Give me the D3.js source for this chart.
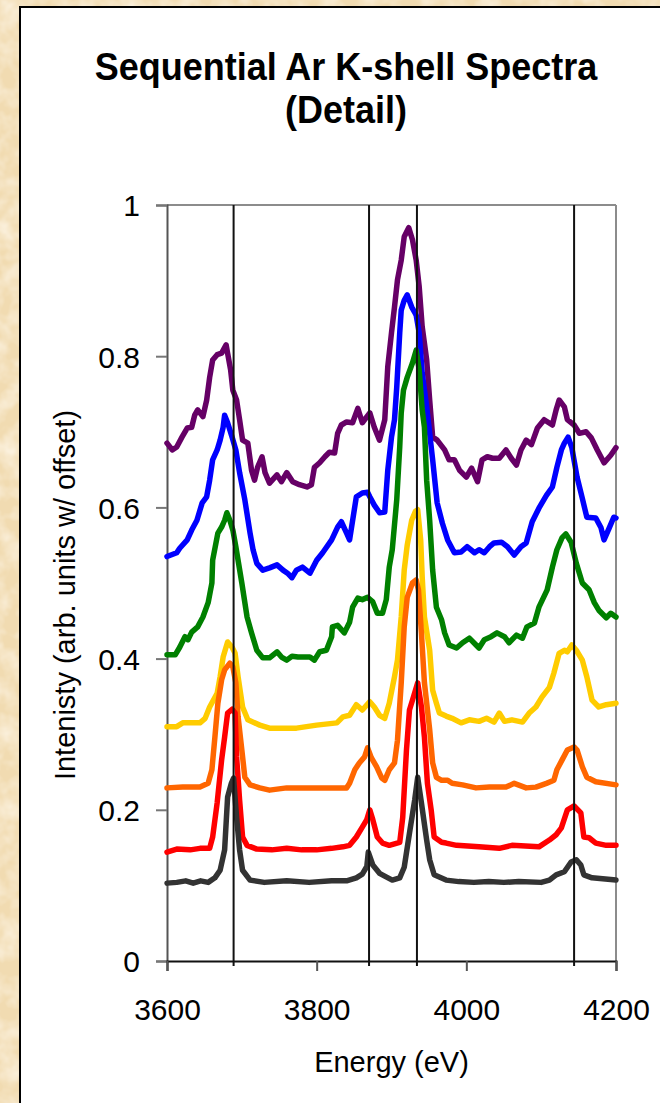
<!DOCTYPE html>
<html><head><meta charset="utf-8">
<script src="https://cdn.jsdelivr.net/npm/d3@7"></script>
<style>html,body{margin:0;padding:0;background:#fff;}svg{display:block;}</style>
</head><body>
<svg id="chart" width="660" height="1103"></svg>
<script>
// ---------- DATA ----------
const titleLines = ["Sequential Ar K-shell Spectra", "(Detail)"];
const xTitle = "Energy (eV)";
const yTitle = "Intenisty (arb. units w/ offset)";
const xTicks = [3600, 3800, 4000, 4200];
const yTicks = [0, 0.2, 0.4, 0.6, 0.8, 1];
const yTickLabels = ["0", "0.2", "0.4", "0.6", "0.8", "1"];
const markerEnergies = [3689, 3870, 3934, 4144];

const purpleSeries = [[3600,.685],[3607,.676],[3613,.680],[3620,.693],[3627,.705],[3633,.706],[3637,.722],[3641,.729],[3648,.720],[3653,.742],[3657,.772],[3661,.795],[3667,.802],[3673,.804],[3679,.815],[3681,.804],[3685,.782],[3688,.755],[3693,.742],[3697,.716],[3701,.689],[3708,.685],[3713,.649],[3717,.636],[3721,.653],[3727,.667],[3731,.646],[3737,.632],[3747,.643],[3753,.634],[3760,.646],[3768,.634],[3777,.630],[3787,.627],[3793,.630],[3797,.653],[3804,.659],[3811,.667],[3817,.673],[3824,.672],[3828,.698],[3833,.709],[3840,.713],[3848,.712],[3855,.731],[3861,.712],[3871,.725],[3877,.706],[3884,.689],[3891,.716],[3895,.786],[3900,.831],[3904,.865],[3908,.901],[3913,.927],[3917,.958],[3923,.970],[3928,.954],[3933,.927],[3937,.892],[3941,.839],[3947,.795],[3951,.742],[3955,.693],[3961,.689],[3971,.676],[3977,.663],[3984,.663],[3991,.649],[4000,.640],[4007,.652],[4015,.634],[4021,.663],[4028,.667],[4035,.665],[4044,.665],[4053,.676],[4060,.665],[4067,.656],[4073,.676],[4080,.689],[4087,.683],[4095,.705],[4104,.716],[4115,.709],[4120,.729],[4124,.742],[4131,.733],[4135,.716],[4144,.709],[4151,.698],[4160,.700],[4167,.692],[4175,.676],[4184,.659],[4193,.669],[4200,.679]];

const blueSeries = [[3600,.535],[3613,.540],[3617,.546],[3627,.557],[3633,.570],[3640,.583],[3647,.606],[3653,.614],[3657,.636],[3661,.663],[3667,.676],[3671,.689],[3675,.706],[3677,.722],[3681,.712],[3687,.693],[3692,.676],[3697,.646],[3704,.610],[3711,.566],[3715,.544],[3720,.526],[3728,.517],[3737,.520],[3747,.524],[3755,.517],[3761,.513],[3767,.507],[3773,.517],[3781,.521],[3791,.513],[3800,.530],[3808,.540],[3820,.557],[3828,.574],[3833,.581],[3840,.566],[3844,.557],[3853,.614],[3861,.619],[3868,.620],[3871,.614],[3877,.603],[3884,.593],[3891,.594],[3895,.649],[3900,.693],[3904,.716],[3907,.759],[3911,.831],[3913,.861],[3917,.874],[3921,.881],[3927,.865],[3931,.858],[3933,.854],[3937,.831],[3941,.778],[3947,.733],[3951,.698],[3955,.663],[3961,.606],[3968,.579],[3975,.557],[3984,.540],[3993,.541],[4001,.548],[4011,.540],[4017,.544],[4024,.540],[4031,.548],[4037,.553],[4047,.554],[4055,.548],[4064,.537],[4073,.548],[4080,.553],[4088,.581],[4097,.599],[4107,.616],[4115,.627],[4121,.653],[4127,.676],[4131,.685],[4136,.693],[4141,.679],[4148,.640],[4155,.612],[4161,.587],[4173,.586],[4180,.573],[4184,.557],[4191,.573],[4197,.587],[4200,.586]];

const greenSeries = [[3600,.405],[3611,.405],[3617,.415],[3624,.429],[3628,.425],[3633,.435],[3641,.442],[3648,.455],[3655,.474],[3660,.500],[3661,.530],[3668,.566],[3673,.574],[3677,.583],[3680,.593],[3684,.583],[3688,.570],[3692,.548],[3700,.500],[3707,.455],[3713,.434],[3720,.411],[3728,.401],[3737,.401],[3747,.409],[3753,.402],[3760,.398],[3767,.403],[3775,.402],[3791,.402],[3797,.398],[3804,.409],[3813,.411],[3820,.429],[3821,.442],[3828,.444],[3837,.434],[3844,.448],[3848,.468],[3855,.480],[3861,.478],[3868,.481],[3875,.475],[3881,.460],[3888,.460],[3893,.478],[3897,.521],[3901,.544],[3907,.610],[3911,.680],[3913,.725],[3916,.755],[3921,.772],[3928,.791],[3933,.808],[3937,.782],[3941,.729],[3944,.706],[3947,.636],[3951,.583],[3955,.517],[3960,.468],[3967,.451],[3971,.434],[3977,.418],[3987,.414],[3995,.421],[4004,.427],[4013,.418],[4017,.414],[4024,.425],[4033,.429],[4041,.434],[4051,.429],[4057,.421],[4067,.431],[4075,.427],[4081,.442],[4091,.447],[4097,.468],[4108,.491],[4115,.521],[4121,.544],[4128,.560],[4133,.565],[4140,.554],[4147,.526],[4155,.500],[4164,.491],[4171,.474],[4177,.464],[4187,.454],[4193,.460],[4200,.455]];

const yellowSeries = [[3600,.310],[3613,.310],[3621,.315],[3644,.315],[3651,.321],[3657,.336],[3667,.354],[3671,.376],[3675,.402],[3681,.422],[3687,.415],[3691,.407],[3695,.376],[3701,.336],[3708,.319],[3724,.312],[3737,.308],[3773,.308],[3800,.312],[3827,.315],[3835,.323],[3844,.325],[3853,.339],[3861,.332],[3871,.343],[3877,.336],[3884,.325],[3891,.321],[3897,.341],[3904,.376],[3908,.398],[3913,.455],[3917,.517],[3921,.550],[3927,.583],[3932,.595],[3935,.597],[3939,.557],[3941,.508],[3944,.455],[3951,.411],[3955,.358],[3960,.341],[3964,.328],[3973,.324],[3981,.321],[3993,.315],[4004,.319],[4017,.317],[4027,.321],[4037,.316],[4044,.328],[4051,.317],[4061,.319],[4075,.316],[4084,.328],[4093,.336],[4101,.349],[4111,.362],[4117,.381],[4124,.407],[4131,.411],[4135,.409],[4141,.418],[4147,.411],[4155,.398],[4161,.376],[4168,.345],[4177,.336],[4187,.339],[4200,.341]];

const orangeSeries = [[3600,.229],[3621,.230],[3644,.230],[3655,.235],[3660,.253],[3664,.296],[3668,.341],[3673,.372],[3677,.385],[3684,.394],[3688,.389],[3692,.368],[3695,.323],[3700,.279],[3704,.243],[3711,.233],[3724,.229],[3737,.226],[3760,.229],[3790,.229],[3820,.229],[3840,.229],[3844,.235],[3851,.253],[3857,.262],[3864,.270],[3868,.282],[3873,.269],[3880,.257],[3887,.242],[3891,.239],[3897,.253],[3904,.262],[3908,.292],[3913,.368],[3917,.442],[3921,.481],[3928,.500],[3933,.504],[3936,.491],[3940,.434],[3944,.368],[3951,.306],[3955,.262],[3960,.243],[3967,.239],[3975,.239],[3981,.235],[3995,.233],[4013,.229],[4031,.230],[4053,.230],[4064,.235],[4080,.229],[4093,.230],[4107,.235],[4117,.239],[4121,.253],[4128,.266],[4135,.279],[4144,.283],[4148,.279],[4155,.257],[4161,.243],[4173,.237],[4200,.233]];

const redSeries = [[3600,.144],[3613,.148],[3631,.147],[3644,.149],[3657,.149],[3661,.164],[3667,.209],[3673,.266],[3677,.296],[3681,.328],[3687,.333],[3691,.328],[3693,.270],[3697,.213],[3701,.164],[3707,.153],[3720,.148],[3740,.147],[3760,.149],[3780,.147],[3800,.147],[3820,.149],[3835,.151],[3844,.153],[3853,.164],[3861,.177],[3867,.187],[3871,.200],[3875,.187],[3881,.164],[3888,.156],[3897,.153],[3911,.157],[3915,.190],[3920,.279],[3924,.332],[3928,.345],[3935,.368],[3940,.336],[3944,.296],[3948,.235],[3953,.200],[3957,.164],[3967,.157],[3973,.156],[3987,.153],[4017,.151],[4044,.149],[4061,.153],[4097,.151],[4111,.160],[4120,.167],[4127,.176],[4135,.200],[4144,.205],[4153,.196],[4157,.164],[4164,.163],[4173,.156],[4187,.153],[4200,.153]];

const blackSeries = [[3600,.103],[3613,.104],[3625,.106],[3635,.103],[3645,.106],[3655,.104],[3664,.110],[3671,.120],[3677,.147],[3681,.217],[3686,.235],[3689,.242],[3693,.190],[3697,.147],[3701,.120],[3711,.107],[3730,.104],[3760,.106],[3790,.104],[3820,.106],[3840,.106],[3853,.110],[3861,.115],[3867,.125],[3869,.144],[3875,.127],[3884,.116],[3901,.107],[3911,.110],[3917,.124],[3924,.169],[3931,.213],[3935,.243],[3940,.209],[3947,.160],[3951,.134],[3957,.114],[3973,.107],[3990,.105],[4010,.104],[4030,.105],[4050,.104],[4070,.105],[4100,.104],[4111,.107],[4120,.114],[4131,.118],[4140,.131],[4147,.134],[4153,.127],[4157,.114],[4168,.110],[4200,.107]];

const seriesList = [purpleSeries, blueSeries, greenSeries, yellowSeries, orangeSeries, redSeries, blackSeries];
const seriesColors = ["#660066", "#0000ff", "#008000", "#ffcc00", "#ff6600", "#ff0000", "#333333"];

// ---------- LAYOUT ----------
const svg = d3.select("#chart");
const W = 660, H = 1103;
const plot = {left: 167, right: 616, top: 205, bottom: 961};

const defs = svg.append("defs");
const filt = defs.append("filter").attr("id", "parch").attr("x", 0).attr("y", 0).attr("width", "100%").attr("height", "100%");
filt.append("feTurbulence").attr("type", "fractalNoise").attr("baseFrequency", 0.05).attr("numOctaves", 3).attr("seed", 4).attr("result", "n");
filt.append("feColorMatrix").attr("in", "n").attr("type", "matrix")
  .attr("values", "0 0 0 0 1  0 0 0 0 0.95  0 0 0 0 0.86  0 0 0 -1.3 0.85");

svg.append("rect").attr("width", W).attr("height", H).attr("fill", "#f1dbb1");
svg.append("rect").attr("width", W).attr("height", H).attr("filter", "url(#parch)");
svg.append("rect").attr("x", 20).attr("y", 7).attr("width", W + 20).attr("height", H + 20)
  .attr("fill", "#ffffff").attr("stroke", "#000").attr("stroke-width", 2);

const x = d3.scaleLinear().domain([3600, 4200]).range([plot.left, plot.right]);
const y = d3.scaleLinear().domain([0, 1]).range([plot.bottom, plot.top]);

const font = "Liberation Sans, Arial, sans-serif";

// Title (slightly tall glyphs as in the source)
titleLines.forEach((t, i) => {
  const by = 80 + i * 43;
  svg.append("text").attr("transform", `translate(346,${by}) scale(1,1.08)`)
    .attr("text-anchor", "middle").attr("font-family", font)
    .attr("font-weight", "bold").attr("font-size", 36).attr("fill", "#000").text(t);
});

// Plot frame (top & right)
svg.append("line").attr("x1", plot.left).attr("x2", plot.right).attr("y1", plot.top).attr("y2", plot.top)
  .attr("stroke", "#8c8c8c").attr("stroke-width", 2);
svg.append("line").attr("x1", plot.right).attr("x2", plot.right).attr("y1", plot.top).attr("y2", plot.bottom)
  .attr("stroke", "#8c8c8c").attr("stroke-width", 2);

// Y axis
const yAxis = d3.axisLeft(y).tickValues(yTicks).tickFormat((d, i) => yTickLabels[i]).tickSize(11).tickPadding(16);
const gy = svg.append("g").attr("transform", `translate(${plot.left},0)`).call(yAxis);
gy.select(".domain").attr("stroke", "#555").attr("stroke-width", 2);
gy.selectAll(".tick line").attr("stroke", "#777").attr("stroke-width", 2);
gy.selectAll(".tick text").attr("font-family", font).attr("font-size", 30).attr("fill", "#000").attr("dy", "0.36em");

// X axis
const xAxis = d3.axisBottom(x).tickValues(xTicks).tickFormat(d3.format("d")).tickSize(10).tickPadding(0);
const gx = svg.append("g").attr("transform", `translate(0,${plot.bottom})`).call(xAxis);
gx.select(".domain").attr("stroke", "#111").attr("stroke-width", 2);
gx.selectAll(".tick line").attr("stroke", "#555").attr("stroke-width", 2);
gx.selectAll(".tick text").attr("font-family", font).attr("font-size", 30).attr("fill", "#000").attr("dy", null).attr("y", 59);

// Axis titles
svg.append("text").attr("x", (plot.left + plot.right) / 2).attr("y", 1072).attr("text-anchor", "middle")
  .attr("font-family", font).attr("font-size", 29).attr("fill", "#000").text(xTitle);
svg.append("text").attr("transform", `translate(75,${(plot.top + plot.bottom) / 2 + 12}) rotate(-90)`).attr("text-anchor", "middle")
  .attr("font-family", font).attr("font-size", 29).attr("fill", "#000").text(yTitle);

// Series
const line = d3.line().x(d => x(d[0])).y(d => y(d[1]));
svg.append("g").selectAll("path").data(seriesList).join("path")
  .attr("d", line).attr("fill", "none")
  .attr("stroke", (d, i) => seriesColors[i]).attr("stroke-width", 5.5)
  .attr("stroke-linejoin", "round").attr("stroke-linecap", "round");

// Marker lines
svg.append("g").selectAll("line").data(markerEnergies).join("line")
  .attr("x1", d => x(d)).attr("x2", d => x(d))
  .attr("y1", plot.top).attr("y2", plot.bottom + 5)
  .attr("stroke", "#111").attr("stroke-width", 2);
</script>
</body></html>
